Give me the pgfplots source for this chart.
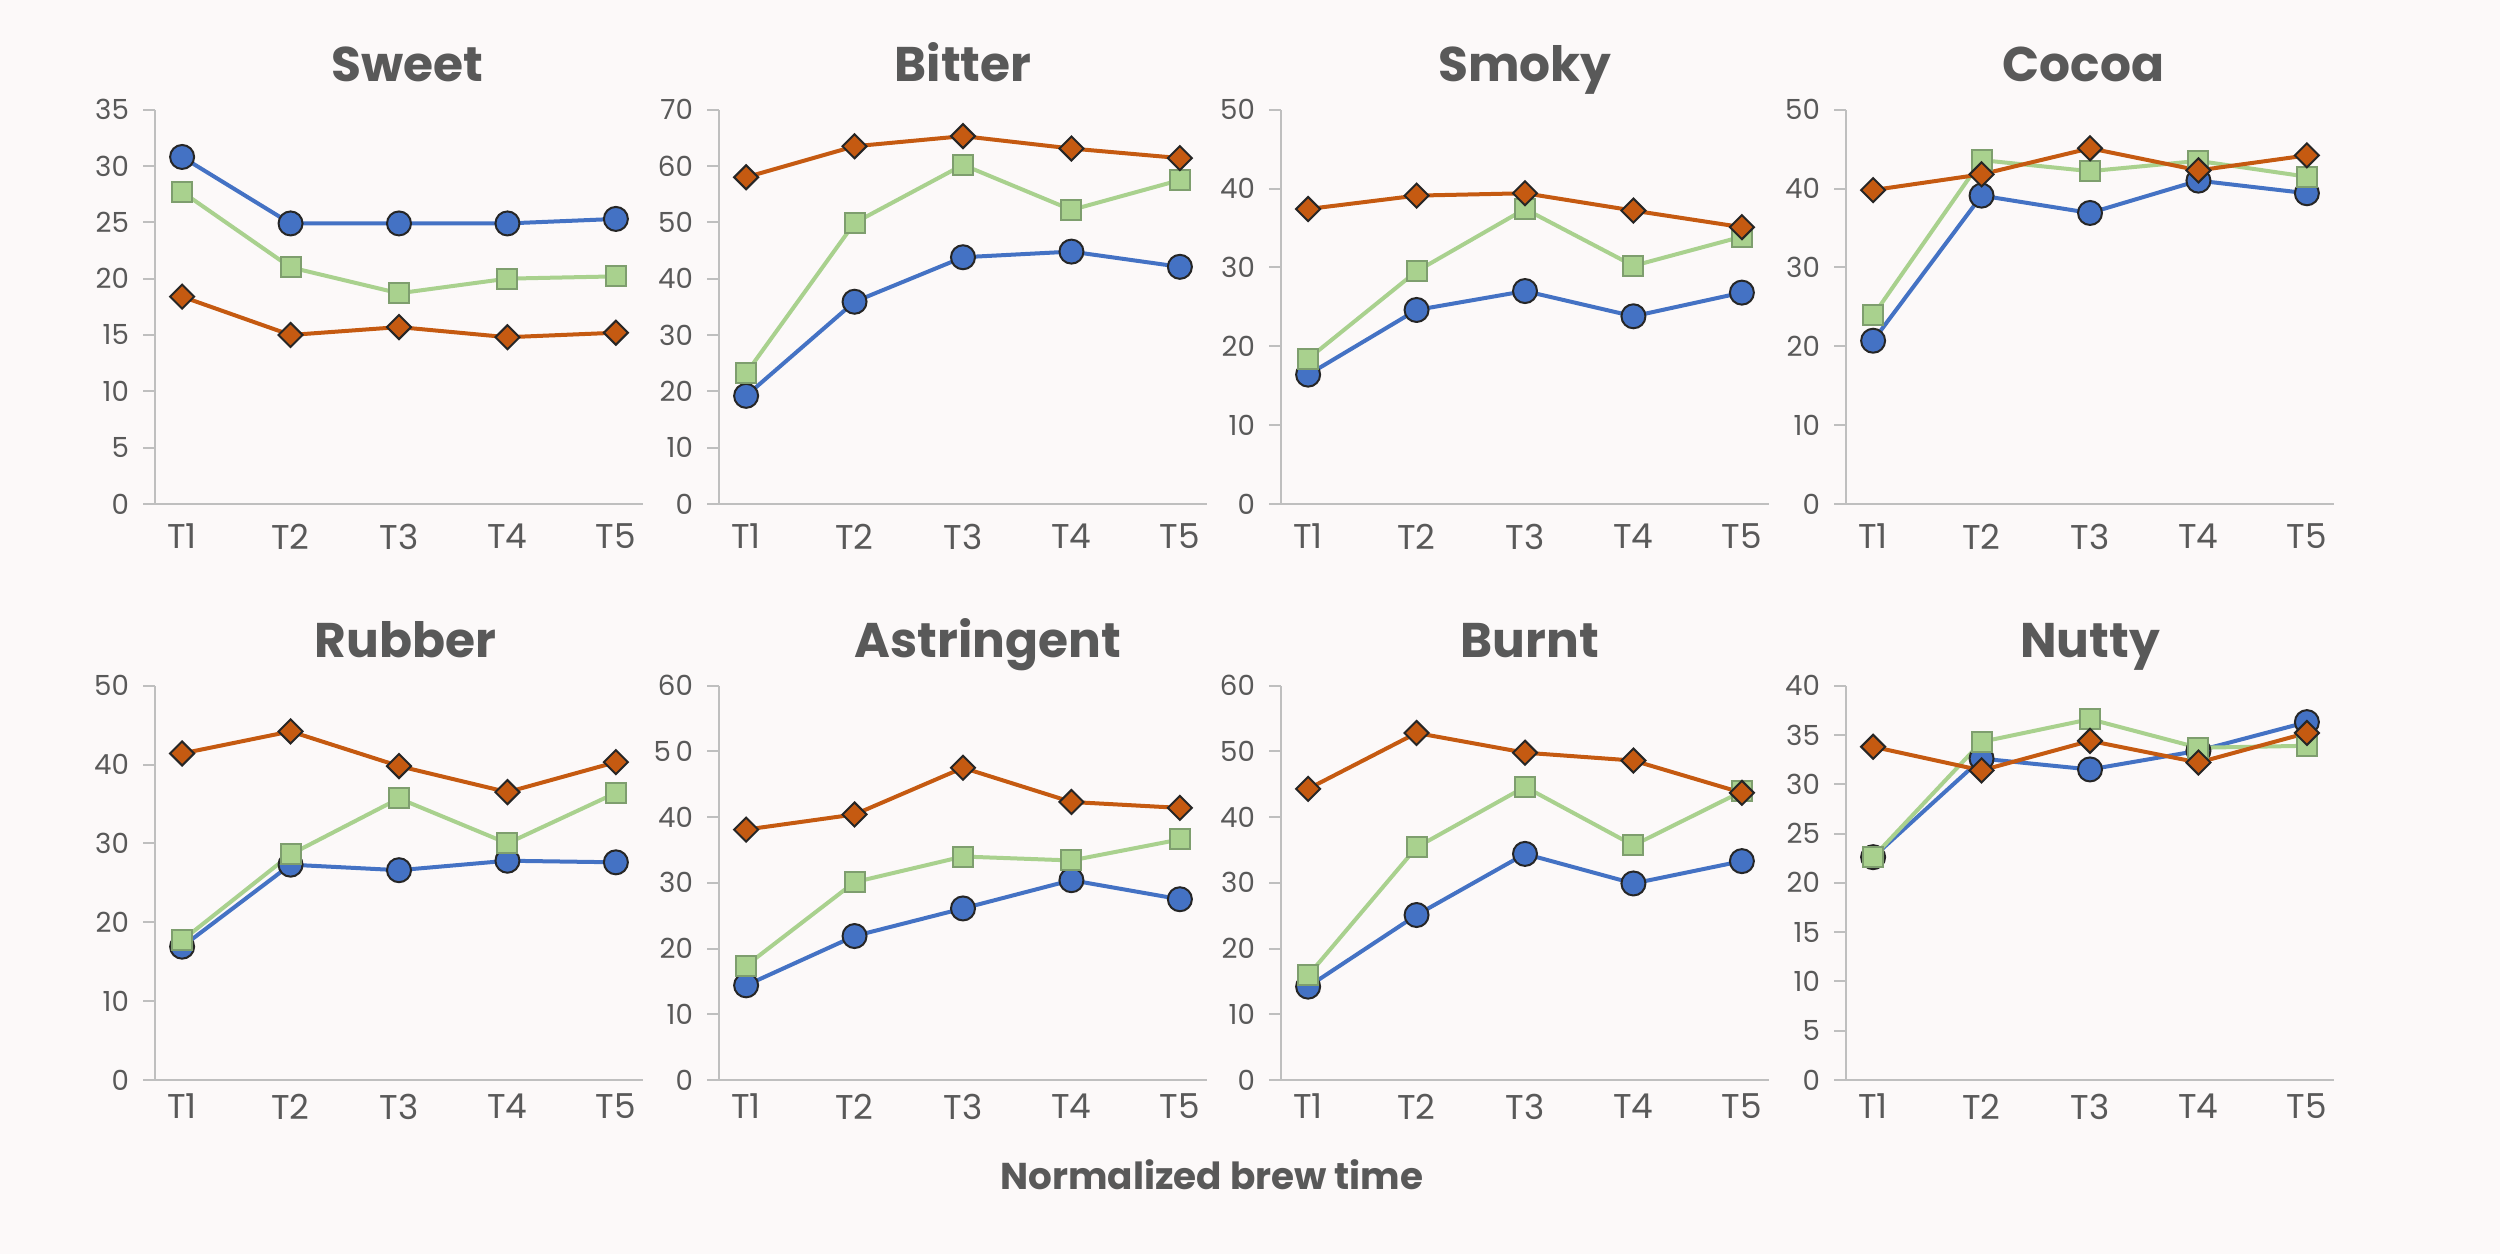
\documentclass[border=0pt]{standalone}
\usepackage{fontspec}
\setmainfont{Poppins}
\usepackage{pgfplots}
\usepackage{pgfplotstable}
\pgfplotsset{compat=1.18}
\definecolor{bg}{HTML}{FCF9F9}
\definecolor{tblue}{HTML}{4472C4}
\definecolor{tgreen}{HTML}{A9D18E}
\definecolor{tgreenedge}{HTML}{7E9E6E}
\definecolor{torange}{HTML}{C55A11}
\definecolor{txt}{HTML}{595959}
\definecolor{axgray}{HTML}{BFBFBF}

\pgfplotstableread{
x b g o
1 30.8 27.7 18.4
2 24.9 21.0 15.0
3 24.9 18.7 15.7
4 24.9 20.0 14.8
5 25.3 20.2 15.2
}\sweet
\pgfplotstableread{
x b g o
1 19.2 23.2 58.0
2 35.9 49.9 63.5
3 43.8 60.2 65.3
4 44.8 52.2 63.1
5 42.1 57.5 61.4
}\bitter
\pgfplotstableread{
x b g o
1 16.4 18.4 37.4
2 24.6 29.5 39.1
3 27.0 37.4 39.4
4 23.8 30.2 37.2
5 26.8 33.9 35.1
}\smoky
\pgfplotstableread{
x b g o
1 20.7 23.9 39.8
2 39.1 43.6 41.8
3 36.9 42.2 45.1
4 41.0 43.5 42.3
5 39.4 41.5 44.2
}\cocoa
\pgfplotstableread{
x b g o
1 16.9 17.7 41.4
2 27.3 28.6 44.2
3 26.6 35.7 39.8
4 27.8 30.0 36.5
5 27.6 36.4 40.3
}\rubber
\pgfplotstableread{
x b g o
1 14.4 17.4 38.1
2 21.9 30.1 40.4
3 26.1 34.0 47.5
4 30.4 33.4 42.3
5 27.5 36.6 41.4
}\astringent
\pgfplotstableread{
x b g o
1 14.2 15.9 44.3
2 25.1 35.4 52.8
3 34.4 44.6 49.8
4 29.9 35.7 48.6
5 33.3 43.9 43.7
}\burnt
\pgfplotstableread{
x b g o
1 22.6 22.6 33.8
2 32.6 34.3 31.4
3 31.5 36.6 34.4
4 33.4 33.7 32.2
5 36.3 33.9 35.2
}\nutty

\pgfplotsset{
  panel/.style={
    scale only axis, width=146.4pt, height=118.3pt, anchor=south west,
    axis x line=bottom, axis y line=left,
    axis line style={-, draw=axgray, line width=0.6pt},
    xmin=0.75, xmax=5.25, ymin=0,
    xtick={1,2,3,4,5}, xticklabels={T1,T2,T3,T4,T5},
    major x tick style={draw=none},
    major y tick style={draw=axgray, line width=0.6pt},
    tick align=outside, major tick length=3.5pt,
    yticklabel style={font=\fontsize{8.3}{9}\selectfont, text=txt, xshift=-0.8pt},
    xticklabel style={font=\fontsize{10.3}{11}\selectfont, text=txt, yshift=1pt},
    /pgf/number format/assume math mode=true,
    title style={at={(0.5,1)}, anchor=base, yshift=2.3pt,
      font=\bfseries\fontsize{14.6}{15}\selectfont, text=txt},
    clip=false,
  },
  sblue/.style={color=tblue, line width=1.2pt, mark=*, mark size=3.6pt,
    mark options={fill=tblue, draw=black!85, line width=0.6pt}},
  sgreen/.style={color=tgreen, line width=1.2pt, mark=square*, mark size=3.0pt,
    mark options={fill=tgreen, draw=tgreenedge, line width=0.6pt}},
  sorange/.style={color=torange, line width=1.2pt, mark=square*, mark size=2.55pt,
    mark options={fill=torange, draw=black!85, line width=0.6pt, rotate=45}},
}
\newcommand{\threeplots}[1]{%
  \addplot[sblue] table[x=x,y=b]{#1};
  \addplot[sgreen] table[x=x,y=g]{#1};
  \addplot[sorange] table[x=x,y=o]{#1};
}

\begin{document}
\begin{tikzpicture}
\useasboundingbox (0,0) rectangle (750pt,376.2pt);
\fill[bg] (0,0) rectangle (750pt,376.2pt);

% Row 1
\begin{axis}[panel, at={(46.5pt,225pt)}, title={Sweet}, ymax=35, ytick={0,5,...,35},
  title style={xshift=2.5pt}]
\threeplots{\sweet}
\end{axis}
\begin{axis}[panel, at={(215.7pt,225pt)}, title={Bitter}, ymax=70, ytick={0,10,...,70}]
\threeplots{\bitter}
\end{axis}
\begin{axis}[panel, at={(384.3pt,225pt)}, title={Smoky}, ymax=50, ytick={0,10,...,50}]
\threeplots{\smoky}
\end{axis}
\begin{axis}[panel, at={(553.8pt,225pt)}, title={Cocoa}, ymax=50, ytick={0,10,...,50},
  title style={xshift=-2pt}]
\threeplots{\cocoa}
\end{axis}

% Row 2
\begin{axis}[panel, at={(46.5pt,52.2pt)}, title={Rubber}, ymax=50, ytick={0,10,...,50},
  xticklabel style={yshift=1.8pt}, title style={xshift=2pt}]
\threeplots{\rubber}
\end{axis}
\begin{axis}[panel, at={(215.7pt,52.2pt)}, title={Astringent}, ymax=60, ytick={0,10,...,60},
  yticklabels={0,10,20,30,40,5\,0,60}, xticklabel style={yshift=1.8pt},
  title style={xshift=7.5pt}]
\threeplots{\astringent}
\end{axis}
\begin{axis}[panel, at={(384.3pt,52.2pt)}, title={Burnt}, ymax=60, ytick={0,10,...,60},
  xticklabel style={yshift=1.8pt}, title style={xshift=1.5pt}]
\threeplots{\burnt}
\end{axis}
\begin{axis}[panel, at={(553.8pt,52.2pt)}, title={Nutty}, ymax=40, ytick={0,5,...,40},
  xticklabel style={yshift=1.8pt}]
\threeplots{\nutty}
\end{axis}

\node[text=txt, font=\bfseries\fontsize{11.2}{13}\selectfont] at (363.6pt,23.7pt) {Normalized brew time};
\end{tikzpicture}
\end{document}
